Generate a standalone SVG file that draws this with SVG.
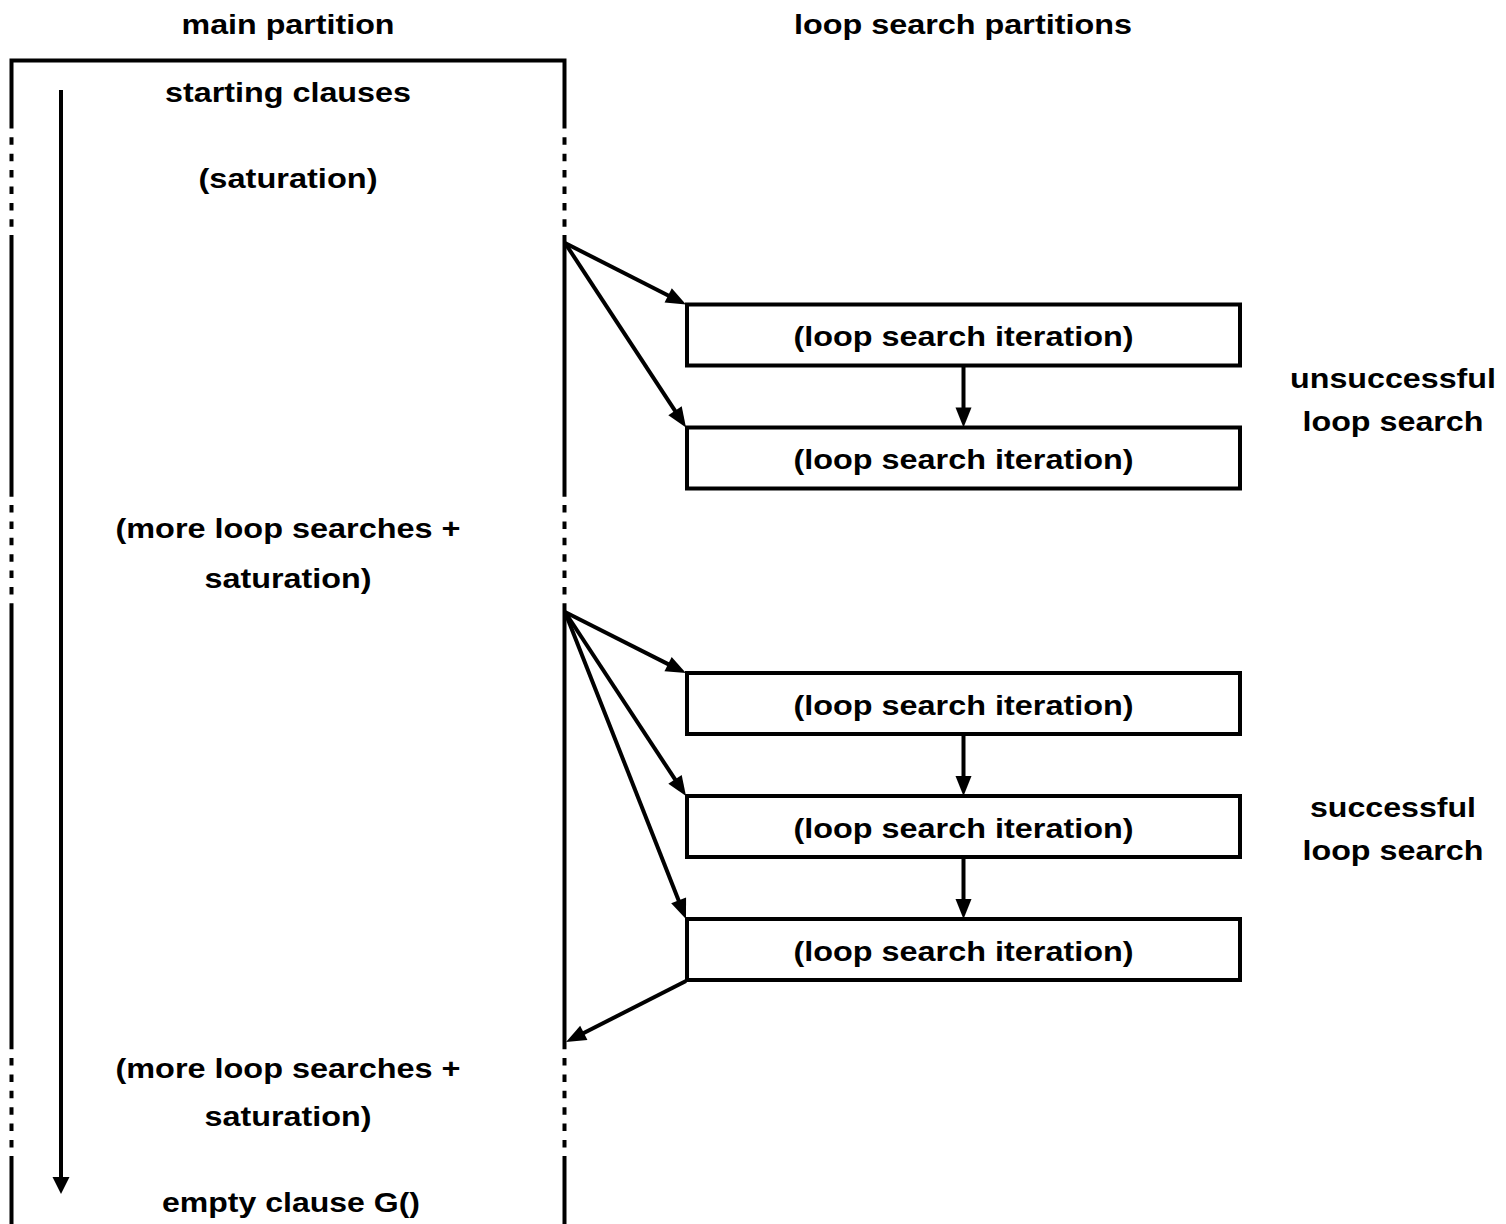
<svg xmlns="http://www.w3.org/2000/svg" width="1506" height="1224" viewBox="0 0 1506 1224">
<style>
text{font-family:"Liberation Sans",Arial,Helvetica,sans-serif;font-weight:bold;font-size:28.5px;fill:#000;text-anchor:middle}
.ln{fill:none;stroke:#000;stroke-width:4}
.dash{fill:none;stroke:#000;stroke-width:4;stroke-dasharray:7.5 8.9}
.box{fill:#fff;stroke:#000;stroke-width:4}
.arr{fill:none;stroke:#000;stroke-width:4;marker-end:url(#ah)}
</style>
<defs>
<marker id="ah" markerUnits="userSpaceOnUse" markerWidth="22" markerHeight="18" refX="10" refY="8" orient="auto" overflow="visible">
<path d="M0,0 L20,8 L0,16 z" fill="#000"/>
</marker>
</defs>
<rect width="1506" height="1224" fill="#fff"/>
<g id="headers">
<text x="288" y="34" textLength="213" lengthAdjust="spacingAndGlyphs">main partition</text>
<text x="963" y="34" textLength="338" lengthAdjust="spacingAndGlyphs">loop search partitions</text>
</g>
<g id="main-partition">
<path class="ln" d="M11.5,1224 V1156 M11.5,1049.3 V603.3 M11.5,496.7 V235 M11.5,128.5 V60.5 H564.5 V128.5 M564.5,235 V496.7 M564.5,603.3 V1049.3 M564.5,1156 V1224"/>
<path class="dash" d="M11.5,137.3 V227 M564.5,137.3 V227 M11.5,505 V595 M564.5,505 V595 M11.5,1058 V1148 M564.5,1058 V1148"/>
<path class="ln" d="M61,90 V1180"/>
<path d="M52.5,1177 L69.5,1177 L61,1194 z" fill="#000"/>
<text x="288" y="102" textLength="246" lengthAdjust="spacingAndGlyphs">starting clauses</text>
<text x="288" y="188" textLength="179" lengthAdjust="spacingAndGlyphs">(saturation)</text>
<text x="288" y="538" textLength="345" lengthAdjust="spacingAndGlyphs">(more loop searches +</text>
<text x="288" y="588" textLength="167" lengthAdjust="spacingAndGlyphs">saturation)</text>
<text x="288" y="1078" textLength="345" lengthAdjust="spacingAndGlyphs">(more loop searches +</text>
<text x="288" y="1126" textLength="167" lengthAdjust="spacingAndGlyphs">saturation)</text>
<text x="291" y="1212" textLength="258" lengthAdjust="spacingAndGlyphs">empty clause G()</text>
</g>
<g id="box1"><rect class="box" x="687" y="304.5" width="553" height="61"/><text x="963.5" y="346" textLength="340" lengthAdjust="spacingAndGlyphs">(loop search iteration)</text></g>
<g id="box2"><rect class="box" x="687" y="427.5" width="553" height="61"/><text x="963.5" y="469" textLength="340" lengthAdjust="spacingAndGlyphs">(loop search iteration)</text></g>
<g id="box3"><rect class="box" x="687" y="673" width="553" height="61"/><text x="963.5" y="714.5" textLength="340" lengthAdjust="spacingAndGlyphs">(loop search iteration)</text></g>
<g id="box4"><rect class="box" x="687" y="796" width="553" height="61"/><text x="963.5" y="837.5" textLength="340" lengthAdjust="spacingAndGlyphs">(loop search iteration)</text></g>
<g id="box5"><rect class="box" x="687" y="919" width="553" height="61"/><text x="963.5" y="960.5" textLength="340" lengthAdjust="spacingAndGlyphs">(loop search iteration)</text></g>
<g id="label-unsuccessful">
<text x="1393" y="388" textLength="206" lengthAdjust="spacingAndGlyphs">unsuccessful</text>
<text x="1393" y="431" textLength="181" lengthAdjust="spacingAndGlyphs">loop search</text>
</g>
<g id="label-successful">
<text x="1393" y="817" textLength="166" lengthAdjust="spacingAndGlyphs">successful</text>
<text x="1393" y="860" textLength="181" lengthAdjust="spacingAndGlyphs">loop search</text>
</g>
<g id="connectors">
<path class="arr" d="M565,243 L677.1,300"/>
<path class="arr" d="M565,243 L680.5,419.1"/>
<path class="arr" d="M565,612 L677,668.6"/>
<path class="arr" d="M565,612 L680.5,787.7"/>
<path class="arr" d="M565,612 L682.3,909.7"/>
<path class="arr" d="M963.5,366 V417.5"/>
<path class="arr" d="M963.5,734 V786"/>
<path class="arr" d="M963.5,857 V909"/>
<path class="arr" d="M686,981 L574.9,1037.5"/>
</g>
</svg>
